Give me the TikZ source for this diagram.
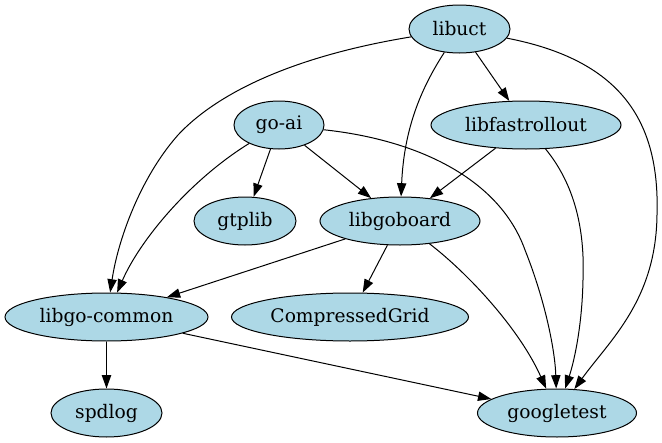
\documentclass[tikz,border=0pt]{standalone}
\usepackage{fontspec}
\setmainfont{DejaVu Serif}
\usetikzlibrary{shapes.geometric,arrows.meta}
\definecolor{lb}{HTML}{ADD8E6}
\begin{document}
\begin{tikzpicture}[x=0.75pt,y=-0.75pt,
 pkg/.style={ellipse,draw,fill=lb,line width=0.75pt,inner sep=0pt,minimum height=36pt,font=\fontsize{14}{16}\selectfont},
 dep/.style={-{Triangle[length=10pt,width=7pt]},line width=0.75pt}]
\useasboundingbox (0,0) rectangle (662,443);
\node[pkg,minimum width=75.75pt] (libuct) at (459.5,29) {libuct};
\node[pkg,minimum width=142.5pt] (libfastrollout) at (526,125) {libfastrollout};
\node[pkg,minimum width=67.5pt] (goai) at (279,125) {go-ai};
\node[pkg,minimum width=76.5pt] (gtplib) at (245,221) {gtplib};
\node[pkg,minimum width=120pt] (libgoboard) at (400,221) {libgoboard};
\node[pkg,minimum width=152.25pt] (libgocommon) at (106.5,317) {libgo-common};
\node[pkg,minimum width=177.75pt] (cgrid) at (350,317) {CompressedGrid};
\node[pkg,minimum width=83.25pt] (spdlog) at (106.5,413) {spdlog};
\node[pkg,minimum width=119.25pt] (googletest) at (557,413) {googletest};

\draw[dep] (libuct) .. controls (300,55) and (220,90) .. (178,135) .. controls (140,178) and (118,240) .. (libgocommon);
\draw[dep] (libuct) .. controls (420,90) and (404,130) .. (libgoboard);
\draw[dep] (libuct) -- (libfastrollout);
\draw[dep] (libuct) .. controls (620,60) and (660,120) .. (657,215) .. controls (656,300) and (610,340) .. (googletest);
\draw[dep] (goai) -- (gtplib);
\draw[dep] (goai) -- (libgoboard);
\draw[dep] (goai) .. controls (190,180) and (140,240) .. (libgocommon);
\draw[dep] (goai) .. controls (420,140) and (500,180) .. (525,250) .. controls (545,300) and (555,350) .. (googletest);
\draw[dep] (libfastrollout) -- (libgoboard);
\draw[dep] (libfastrollout) .. controls (575,185) and (585,230) .. (583,280) .. controls (582,330) and (573,365) .. (googletest);
\draw[dep] (libgoboard) -- (libgocommon);
\draw[dep] (libgoboard) -- (cgrid);
\draw[dep] (libgoboard) .. controls (470,275) and (520,330) .. (googletest);
\draw[dep] (libgocommon) -- (spdlog);
\draw[dep] (libgocommon) -- (googletest);
\end{tikzpicture}
\end{document}
